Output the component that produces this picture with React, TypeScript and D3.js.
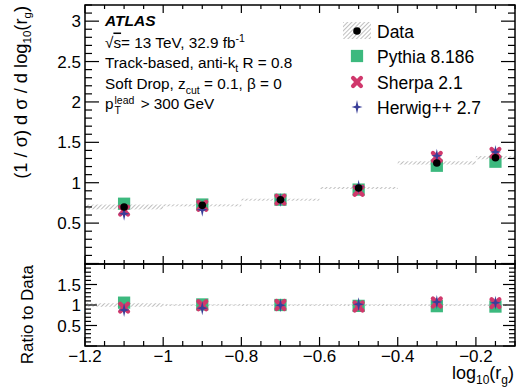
import React from "react";
import * as d3 from "d3";

// ---- data ----
const binEdges = [-1.2, -1.0, -0.8, -0.6, -0.4, -0.2, -0.1];
const binCenters = [-1.1, -0.9, -0.7, -0.5, -0.3, -0.15];
const dataValues = [0.70, 0.72, 0.79, 0.935, 1.245, 1.31];
const dataErrors = [0.03, 0.012, 0.012, 0.012, 0.02, 0.02];
const pythiaValues = [0.74, 0.73, 0.79, 0.915, 1.21, 1.26];
const sherpaValues = [0.655, 0.715, 0.79, 0.9, 1.32, 1.37];
const herwigValues = [0.615, 0.665, 0.785, 0.95, 1.335, 1.38];
const xMajorTicks = [-1.2, -1.0, -0.8, -0.6, -0.4, -0.2];
const xTickLabels = ["−1.2", "−1", "−0.8", "−0.6", "−0.4", "−0.2"];
const mainYTicks = [0.5, 1, 1.5, 2, 2.5, 3];
const mainYTickLabels = ["0.5", "1", "1.5", "2", "2.5", "3"];
const ratioYTicks = [0.5, 1, 1.5];
const ratioYTickLabels = ["0.5", "1", "1.5"];
const legendLabels = ["Data", "Pythia 8.186", "Sherpa 2.1", "Herwig++ 2.7"];

// ---- style ----
const FONT = "'Liberation Sans', Arial, Helvetica, sans-serif";
const GREEN = "#3cb97e";
const RED = "#d0386c";
const BLUE = "#3a3f99";

const W = 524, H = 392;
const L = 85, R = 515, TOP = 5, MID = 264, BOT = 346;

const x = d3.scaleLinear().domain([-1.2, -0.1]).range([L, R]);
const yMain = d3.scaleLinear().domain([0, 3.2]).range([263.5, TOP]);
const yRatio = d3.scaleLinear().domain([0, 2]).range([BOT, MID]);

const squarePath = d3.symbol(d3.symbolSquare, 150)() as string;
const starRadii = [7, 1.8, 5.5, 1.8, 7, 1.8, 5.5, 1.8];
const starPath = d3
  .lineRadial<number>()
  .angle((_, i) => (i * Math.PI) / 4)
  .radius((r) => r)
  .curve(d3.curveLinearClosed)(starRadii) as string;

const Square = ({ cx, cy }: { cx: number; cy: number }) => (
  <path d={squarePath} transform={`translate(${cx},${cy})`} fill={GREEN} />
);
const XMark = ({ cx, cy }: { cx: number; cy: number }) => (
  <path d="M-3.9,-3.9L3.9,3.9M-3.9,3.9L3.9,-3.9" transform={`translate(${cx},${cy})`}
    stroke={RED} strokeWidth={4.3} strokeLinecap="round" fill="none" />
);
const Star = ({ cx, cy }: { cx: number; cy: number }) => (
  <path d={starPath} transform={`translate(${cx},${cy})`} fill={BLUE} />
);
const Dot = ({ cx, cy }: { cx: number; cy: number }) => (
  <circle cx={cx} cy={cy} r={3.8} fill="#000" />
);

const xMinor = d3.range(-1.2, -0.1 + 1e-9, 0.05);
const mainYMinor = d3.range(0, 3.2 + 1e-9, 0.1);
const ratioYMinor = d3.range(0, 2 + 1e-9, 0.1);

export default function App() {
  const tick = { stroke: "#000", strokeWidth: 1.2 };
  const ratio = (arr: number[]) => arr.map((v, i) => v / dataValues[i]);
  return (
    <svg
      width={W}
      height={H}
      style={{ position: "absolute", left: 0, top: 0, background: "#fff" }}
      fontFamily={FONT}
    >
      <defs>
        <pattern id="hatch" width="3" height="3" patternUnits="userSpaceOnUse" patternTransform="rotate(45)">
          <rect width="3" height="3" fill="#fff" />
          <line x1="0" y1="0" x2="0" y2="3" stroke="#959595" strokeWidth="1.2" />
        </pattern>
      </defs>
      <rect width={W} height={H} fill="#fff" />

      {/* ---------- main panel ---------- */}
      {dataValues.map((v, i) => {
        const y0 = yMain(v + dataErrors[i]);
        const y1 = yMain(v - dataErrors[i]);
        return (
          <rect key={"b" + i} x={x(binEdges[i])} width={x(binEdges[i + 1]) - x(binEdges[i])}
            y={y0} height={Math.max(2, y1 - y0)} fill="url(#hatch)" />
        );
      })}
      {pythiaValues.map((v, i) => <Square key={"p" + i} cx={x(binCenters[i])} cy={yMain(v)} />)}
      {sherpaValues.map((v, i) => <XMark key={"s" + i} cx={x(binCenters[i])} cy={yMain(v)} />)}
      {herwigValues.map((v, i) => <Star key={"h" + i} cx={x(binCenters[i])} cy={yMain(v)} />)}
      {dataValues.map((v, i) => <Dot key={"d" + i} cx={x(binCenters[i])} cy={yMain(v)} />)}

      {/* main ticks */}
      {mainYMinor.map((v, i) => {
        const major = Math.abs(v * 2 - Math.round(v * 2)) < 1e-6;
        const len = major ? 14 : 7;
        return (
          <g key={"my" + i}>
            <line x1={L} x2={L + len} y1={yMain(v)} y2={yMain(v)} {...tick} />
            <line x1={R - len} x2={R} y1={yMain(v)} y2={yMain(v)} {...tick} />
          </g>
        );
      })}
      {xMinor.map((v, i) => {
        const major = Math.abs(v * 5 - Math.round(v * 5)) < 1e-6;
        const lm = major ? 8 : 4;
        const lr = major ? 9 : 5;
        return (
          <g key={"mx" + i}>
            <line x1={x(v)} x2={x(v)} y1={TOP} y2={TOP + lm} {...tick} />
            <line x1={x(v)} x2={x(v)} y1={MID} y2={MID - lm} {...tick} />
            <line x1={x(v)} x2={x(v)} y1={MID} y2={MID + lr} {...tick} />
            <line x1={x(v)} x2={x(v)} y1={BOT} y2={BOT - lr} {...tick} />
          </g>
        );
      })}
      {mainYTicks.map((v, i) => (
        <text key={"myl" + i} x={L - 4} y={yMain(v) + 6} fontSize={17} textAnchor="end">
          {mainYTickLabels[i]}
        </text>
      ))}

      {/* ---------- ratio panel ---------- */}
      <line x1={L} x2={R} y1={yRatio(1)} y2={yRatio(1)} stroke="#9a9a9a" strokeWidth={1} strokeDasharray="1.5 2" />
      {dataValues.map((v, i) => {
        const e = dataErrors[i] / v;
        const y0 = yRatio(1 + e);
        const y1 = yRatio(1 - e);
        return (
          <rect key={"rb" + i} x={x(binEdges[i])} width={x(binEdges[i + 1]) - x(binEdges[i])}
            y={y0} height={Math.max(1.5, y1 - y0)} fill="url(#hatch)" />
        );
      })}
      {ratio(pythiaValues).map((v, i) => <Square key={"rp" + i} cx={x(binCenters[i])} cy={yRatio(v)} />)}
      {ratio(sherpaValues).map((v, i) => <XMark key={"rs" + i} cx={x(binCenters[i])} cy={yRatio(v)} />)}
      {ratio(herwigValues).map((v, i) => <Star key={"rh" + i} cx={x(binCenters[i])} cy={yRatio(v)} />)}

      {ratioYMinor.map((v, i) => {
        const major = Math.abs(v * 2 - Math.round(v * 2)) < 1e-6;
        const len = major ? 12 : 6;
        return (
          <g key={"ry" + i}>
            <line x1={L} x2={L + len} y1={yRatio(v)} y2={yRatio(v)} {...tick} />
            <line x1={R - len} x2={R} y1={yRatio(v)} y2={yRatio(v)} {...tick} />
          </g>
        );
      })}
      {ratioYTicks.map((v, i) => (
        <text key={"ryl" + i} x={L - 4} y={yRatio(v) + 6} fontSize={17} textAnchor="end">
          {ratioYTickLabels[i]}
        </text>
      ))}
      {xMajorTicks.map((v, i) => (
        <text key={"xl" + i} x={x(v)} y={361.5} fontSize={17} textAnchor="middle">
          {xTickLabels[i]}
        </text>
      ))}

      {/* frames */}
      <rect x={L} y={TOP} width={R - L} height={MID - TOP} fill="none" stroke="#000" strokeWidth={1.5} />
      <rect x={L} y={MID} width={R - L} height={BOT - MID} fill="none" stroke="#000" strokeWidth={1.5} />

      {/* axis titles */}
      <text transform="translate(27.3,6) rotate(-90)" fontSize={18.3} textAnchor="end">
        (1 / σ) d σ / d log<tspan fontSize={11.5} dy={4}>10</tspan>
        <tspan dy={-4}>(r</tspan><tspan fontSize={11.5} dy={4}>g</tspan><tspan dy={-4}>)</tspan>
      </text>
      <text transform="translate(33,265) rotate(-90)" fontSize={17} textAnchor="end">
        Ratio to Data
      </text>
      <text x={514} y={379} fontSize={18} textAnchor="end">
        log<tspan fontSize={12} dy={5}>10</tspan><tspan dy={-5}>(r</tspan>
        <tspan fontSize={12} dy={5}>g</tspan><tspan dy={-5}>)</tspan>
      </text>

      {/* ATLAS label block */}
      <text x={105} y={26} fontSize={15.5} fontWeight="bold" fontStyle="italic">ATLAS</text>
      <text x={105} y={47.5} fontSize={15.3}>
        √<tspan style={{ textDecoration: "overline" }}>s</tspan>= 13 TeV, 32.9 fb<tspan fontSize={10.5} dy={-6}>-1</tspan>
      </text>
      <text x={105} y={68.3} fontSize={15.3}>
        Track-based, anti-k<tspan fontSize={10.5} dy={4}>t</tspan><tspan dy={-4}> R = 0.8</tspan>
      </text>
      <text x={105} y={89.3} fontSize={15.3}>
        Soft Drop, z<tspan fontSize={10.5} dy={5}>cut</tspan><tspan dy={-5}> = 0.1, β = 0</tspan>
      </text>
      <text x={105} y={109.3} fontSize={15.3}>
        p<tspan fontSize={10.5} dy={5} dx={1}>T</tspan>
        <tspan fontSize={10.5} dy={-10} dx={-6.4}>lead</tspan>
        <tspan dy={5} dx={2}> &gt; 300 GeV</tspan>
      </text>

      {/* legend */}
      <rect x={343} y={22} width={28} height={17} fill="url(#hatch)" />
      <Dot cx={357} cy={31} />
      <Square cx={357} cy={56} />
      <XMark cx={357} cy={82} />
      <Star cx={357} cy={107} />
      {legendLabels.map((t, i) => (
        <text key={"lg" + i} x={377} y={[31, 56, 82, 107][i] + 6.5} fontSize={17.5}>{t}</text>
      ))}
    </svg>
  );
}
